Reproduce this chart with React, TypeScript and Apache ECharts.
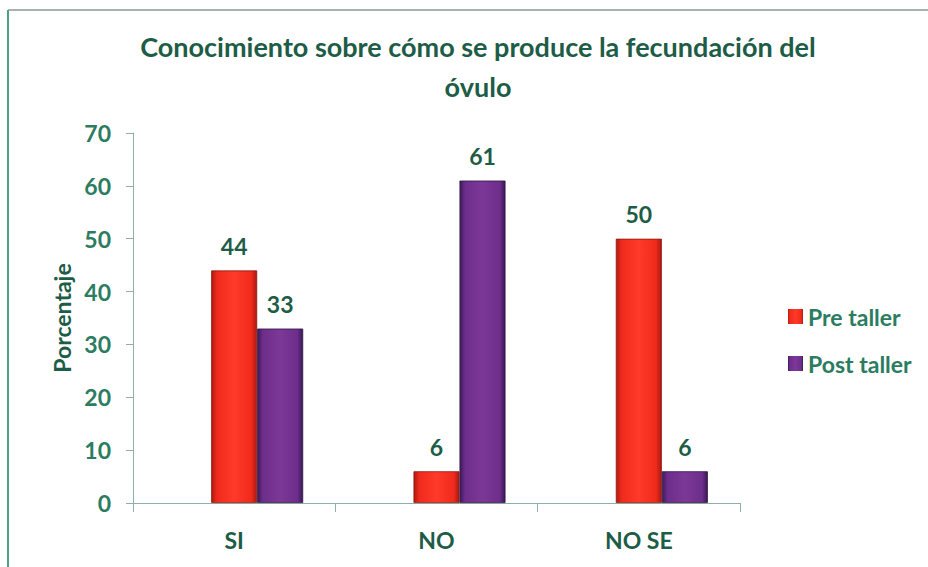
import React, { useEffect, useRef } from "react";
import * as echarts from "echarts";

const categories = ["SI", "NO", "NO SE"];
const preTaller = [44, 6, 50];
const postTaller = [33, 61, 6];
const seriesNames = ["Pre taller", "Post taller"];
const titleText = "Conocimiento sobre cómo se produce la fecundación del\nóvulo";
const yAxisName = "Porcentaje";

const FONT = "Lato, 'Liberation Sans', sans-serif";
const DARK = "#1d5c46";
const TEAL = "#2b7c60";

const redGrad = new echarts.graphic.LinearGradient(0, 0, 1, 0, [
  { offset: 0, color: "#b01a10" },
  { offset: 0.12, color: "#f02a1c" },
  { offset: 0.5, color: "#ff3a2a" },
  { offset: 0.88, color: "#f02a1c" },
  { offset: 1, color: "#a81a10" },
]);
const purpleGrad = new echarts.graphic.LinearGradient(0, 0, 1, 0, [
  { offset: 0, color: "#3e1a5a" },
  { offset: 0.12, color: "#6e2e8c" },
  { offset: 0.5, color: "#7c3896" },
  { offset: 0.88, color: "#6e2e8c" },
  { offset: 1, color: "#3a1856" },
]);

export default function App() {
  const ref = useRef<HTMLDivElement>(null);
  useEffect(() => {
    document.body.style.margin = "0";
    const chart = echarts.init(ref.current!, undefined, { renderer: "svg" });
    const axisLine = { lineStyle: { color: "#8fb0a4", width: 1 } };
    const labelStyle = { fontFamily: FONT, fontWeight: "bold" as const };
    chart.setOption({
      animation: false,
      backgroundColor: "#ffffff",
      graphic: [
        {
          type: "line",
          shape: { x1: 8, y1: 10, x2: 8, y2: 567 },
          style: { stroke: "#4f9f82", lineWidth: 2 },
        },
        {
          type: "line",
          shape: { x1: 8, y1: 10, x2: 928, y2: 10 },
          style: { stroke: "#8a9a94", lineWidth: 1.5 },
        },
        {
          type: "text",
          x: 478,
          y: 26,
          style: {
            text: titleText,
            align: "center",
            verticalAlign: "top",
            font: `bold 27px ${FONT}`,
            lineHeight: 40,
            fill: DARK,
          },
        },
      ],
      legend: {
        orient: "vertical",
        left: 783,
        top: 300,
        itemWidth: 15,
        itemHeight: 15,
        itemGap: 24,
        itemTextGap: 9,
        itemStyle: { borderWidth: 0 },
        icon: "rect",
        textStyle: { ...labelStyle, fontSize: 23, color: TEAL },
        data: seriesNames,
      },
      grid: [
        { left: 133, top: 133, width: 607, height: 370 },
        { left: 156, top: 133, width: 607, height: 370 },
      ],
      xAxis: [
        {
          type: "category",
          gridIndex: 0,
          data: categories,
          axisLine,
          axisTick: { show: true, length: 9, lineStyle: { color: "#8fb0a4" } },
          axisLabel: { ...labelStyle, fontSize: 23, color: DARK, margin: 25 },
        },
        {
          type: "category",
          gridIndex: 1,
          data: categories,
          show: false,
        },
      ],
      yAxis: [
        {
          type: "value",
          gridIndex: 0,
          min: 0,
          max: 70,
          interval: 10,
          name: yAxisName,
          nameLocation: "middle",
          nameGap: 60,
          nameTextStyle: { ...labelStyle, fontSize: 23, color: DARK },
          axisLine: { show: true, ...axisLine },
          axisTick: { show: true, length: 7, lineStyle: { color: "#8fb0a4" } },
          splitLine: { show: false },
          axisLabel: { ...labelStyle, fontSize: 23, color: TEAL, margin: 22 },
        },
        {
          type: "value",
          gridIndex: 1,
          min: 0,
          max: 70,
          interval: 10,
          show: false,
          splitLine: { show: false },
        },
      ],
      series: [
        {
          name: seriesNames[0],
          type: "bar",
          xAxisIndex: 1,
          yAxisIndex: 1,
          data: preTaller,
          barWidth: 46,
          barGap: "0%",
          itemStyle: { color: redGrad, borderColor: "#8a1a10", borderWidth: 0.8 },
          label: {
            show: true,
            position: "top",
            distance: 13,
            ...labelStyle,
            fontSize: 23,
            color: DARK,
          },
        },
        {
          name: seriesNames[1],
          type: "bar",
          xAxisIndex: 1,
          yAxisIndex: 1,
          data: postTaller,
          barWidth: 46,
          barGap: "0%",
          itemStyle: { color: purpleGrad, borderColor: "#301448", borderWidth: 0.8 },
          label: {
            show: true,
            position: "top",
            distance: 13,
            ...labelStyle,
            fontSize: 23,
            color: DARK,
          },
        },
      ],
    });
    return () => chart.dispose();
  }, []);
  return <div ref={ref} style={{ width: 928, height: 567 }} />;
}
